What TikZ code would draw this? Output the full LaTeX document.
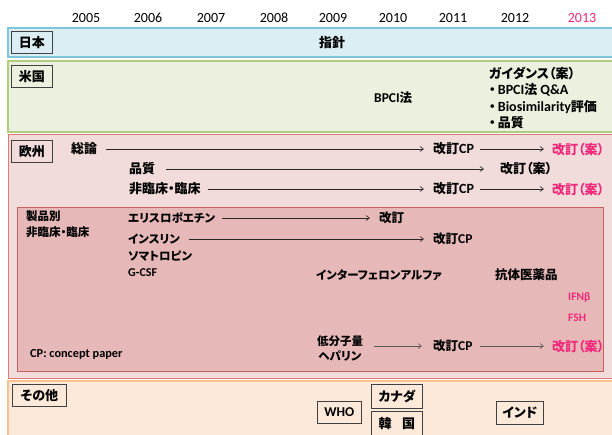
\documentclass[tikz,border=0pt]{standalone}
\usepackage{fontspec}
\setmainfont{Carlito}
\newfontfamily\jp[RawFeature=+palt]{Noto Sans CJK JP}
\newfontfamily\lt{Carlito}
\newfontfamily\ltb[Scale=1.08]{Carlito}
\usetikzlibrary{arrows.meta,calc}
\definecolor{jpfill}{HTML}{DAEEF3}
\definecolor{jpline}{HTML}{7FC6DA}
\definecolor{usfill}{HTML}{EBF1DE}
\definecolor{usline}{HTML}{B0CC80}
\definecolor{eufill}{HTML}{F2DCDB}
\definecolor{euline}{HTML}{DE7A78}
\definecolor{infill}{HTML}{E6B9B8}
\definecolor{inline}{HTML}{C8605D}
\definecolor{otfill}{HTML}{FDE9D9}
\definecolor{otline}{HTML}{F9C090}
\definecolor{pinktx}{HTML}{F0287A}
\tikzset{
  yr/.style={font=\lt\fontsize{14}{14}\selectfont, inner sep=0pt},
  tx/.style={font=\jp\bfseries\fontsize{13}{15}\selectfont, inner sep=0pt, anchor=west},
  txs/.style={font=\jp\bfseries\fontsize{11.5}{13}\selectfont, inner sep=0pt, anchor=west},
  pk/.style={text=pinktx},
  lbl/.style={draw=black!75, line width=0.8pt, font=\jp\bfseries\fontsize{13}{15}\selectfont, inner sep=0pt, minimum height=22pt, anchor=north west},
  arr/.style={-{Straight Barb[length=3.5pt,width=5pt]}, line width=0.6pt, black!85},
}
\begin{document}
\begin{tikzpicture}[x=1pt,y=-1pt]
\useasboundingbox (0,0) rectangle (612,434);
\clip (0,0) rectangle (612,434);
% bands
\fill[white] (0,0) rectangle (612,434);
\draw[fill=jpfill, draw=jpline, line width=1.2pt] (8,28) rectangle (640,57);
\draw[fill=usfill, draw=usline, line width=1.2pt] (8,61) rectangle (640,132);
\draw[fill=eufill, draw=euline, line width=1pt] (8,134) rectangle (640,378);
\draw[fill=infill, draw=inline, line width=0.8pt] (17,207) rectangle (603,371);
\draw[fill=otfill, draw=otline, line width=1.2pt] (8,381) rectangle (640,460);
% years
\node[yr] (y05) at (86,18) {2005};
\node[yr] (y06) at (148,18) {2006};
\node[yr] (y07) at (211,18) {2007};
\node[yr] (y08) at (274,18) {2008};
\node[yr] (y09) at (333,18) {2009};
\node[yr] (y10) at (393,18) {2010};
\node[yr] (y11) at (453,18) {2011};
\node[yr] (y12) at (515,18) {2012};
\node[yr, text=pinktx] (y13) at (582,18) {2013};
% Japan
\node[lbl, minimum width=41pt] (jp) at (11,31) {日本};
\node[tx, anchor=center] (shishin) at (332,43) {指針};
% US
\node[lbl, minimum width=41pt] (us) at (11,65) {米国};
\node[tx, font=\jp\bfseries\fontsize{12.5}{14}\selectfont] (bpci) at (374,98) {{\ltb BPCI}法};
\node[tx, anchor=north west, align=left, font=\jp\bfseries\fontsize{13}{16.5}\selectfont] (guide) at (489,66.5)
  {ガイダンス（案）\\・\,{\ltb BPCI}法 {\ltb Q\&A}\\・\,{\ltb Biosimilarity}評価\\・\,品質};
% Europe
\node[lbl, minimum width=41pt] (eu) at (11,140) {欧州};
\node[tx] (soron) at (71,149) {総論};
\node[tx] (soroncp) at (433,149) {改訂{\ltb CP}};
\node[tx, pk] (soronan) at (552,150) {改訂（案）};
\node[tx] (hinshitsu) at (129,169) {品質};
\node[tx] (hinan) at (500,169) {改訂（案）};
\node[tx] (rinsho) at (129,189) {非臨床・臨床};
\node[tx] (rinshocp) at (433,189) {改訂{\ltb CP}};
\node[tx, pk] (rinshoan) at (552,190) {改訂（案）};
\draw[arr, shorten <=9pt, shorten >=9pt] (soron.east) -- (soroncp.west);
\draw[arr, shorten <=6pt, shorten >=8pt] (soroncp.east) -- (soronan.west |- soroncp.east);
\draw[arr, shorten <=11pt, shorten >=16pt] (hinshitsu.east) -- (hinan.west);
\draw[arr, shorten <=7pt, shorten >=9pt] (rinsho.east) -- (rinshocp.west);
\draw[arr, shorten <=6pt, shorten >=8pt] (rinshocp.east) -- (rinshoan.west |- rinshocp.east);
% inner
\node[txs, anchor=north west, align=left, font=\jp\bfseries\fontsize{11.5}{16}\selectfont] (seihin) at (26,210) {製品別\\非臨床・臨床};
\node[txs] (epo) at (128,218) {エリスロポエチン};
\node[txs, font=\jp\bfseries\fontsize{12.5}{14}\selectfont] (epokai) at (379,218) {改訂};
\node[txs] (ins) at (128,239) {インスリン};
\node[txs, font=\jp\bfseries\fontsize{12.5}{14}\selectfont] (inscp) at (433,239) {改訂{\ltb CP}};
\node[txs] (soma) at (128,256) {ソマトロピン};
\node[txs, font=\lt\bfseries\fontsize{12}{13}\selectfont] (gcsf) at (128,273) {G-CSF};
\node[txs] (ifna) at (316,275) {インターフェロンアルファ};
\node[txs, font=\jp\bfseries\fontsize{12.5}{14}\selectfont] (kotai) at (495,275) {抗体医薬品};
\node[txs, pk, font=\lt\bfseries\fontsize{11.5}{12}\selectfont] (ifnb) at (568,297) {IFNβ};
\node[txs, pk, font=\lt\bfseries\fontsize{11.5}{12}\selectfont] (fsh) at (568,318) {FSH};
\node[txs, align=center, anchor=center, font=\jp\bfseries\fontsize{11.5}{15}\selectfont] (hep) at (340,348) {低分子量\\ヘパリン};
\node[tx, font=\jp\bfseries\fontsize{12.5}{14}\selectfont] (hepcp) at (433,346) {改訂{\ltb CP}};
\node[tx, pk] (hepan) at (552,347) {改訂（案）};
\node[txs, font=\lt\bfseries\fontsize{12.3}{13}\selectfont] (cpnote) at (30,354) {CP: concept paper};
\draw[arr, shorten <=7pt, shorten >=9pt] (epo.east) -- (epokai.west);
\draw[arr, shorten <=9pt, shorten >=9pt] (ins.east) -- (inscp.west);
\draw[arr, black!65, shorten <=11pt, shorten >=11pt] (hep.east |- hepcp.west) -- (hepcp.west);
\draw[arr, black!65, shorten <=7pt, shorten >=8pt] (hepcp.east) -- (hepan.west |- hepcp.east);
% Others
\node[lbl, minimum width=54pt] (other) at (12,384) {その他};
\node[lbl, minimum width=44pt, font=\lt\bfseries\fontsize{13.5}{15}\selectfont] (who) at (317,401) {WHO};
\node[lbl, minimum width=51pt, minimum height=24pt] (canada) at (371,384) {カナダ};
\node[lbl, minimum width=51pt, minimum height=24pt] (korea) at (371,411) {韓\hspace{0.8em}国};
\node[lbl, minimum width=47pt, minimum height=23pt] (india) at (496,401) {インド};
\end{tikzpicture}
\end{document}
